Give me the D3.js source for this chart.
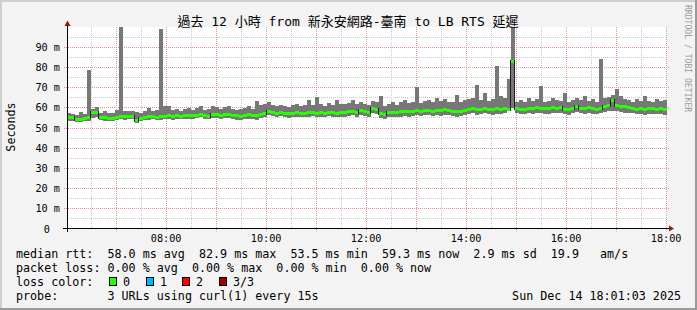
<!DOCTYPE html>
<html><head><meta charset="utf-8">
<script src="https://cdn.jsdelivr.net/npm/d3@7/dist/d3.min.js"></script>
<style>
html,body{margin:0;padding:0;background:#f3f3f3;}
svg{display:block;}
text{font-family:"DejaVu Sans Mono","Noto Sans CJK TC",monospace;}
</style></head>
<body>
<svg id="c" width="697" height="310"></svg>
<script>
// ---------- data ----------
const title = "過去 12 小時 from 新永安網路-臺南 to LB RTS 延遲";
const yAxisTitle = "Seconds";
const sideText = "RRDTOOL / TOBI OETIKER";
const startTime = new Date(2025, 11, 14, 6, 1, 3);
const endTime = new Date(2025, 11, 14, 18, 1, 3);
const binSeconds = 288;
const xTickLabels = ["08:00", "10:00", "12:00", "14:00", "16:00", "18:00"];
const yTickValues = [0, 10, 20, 30, 40, 50, 60, 70, 80, 90];
const yTickLabels = ["0", "10 m", "20 m", "30 m", "40 m", "50 m", "60 m", "70 m", "80 m", "90 m"];

const medianMs = [
 55.1,55.0,54.2,54.0,54.6,55.0,57.8,57.6,55.2,55.0,
 54.6,54.8,55.4,55.6,55.6,55.6,55.6,53.5,54.6,55.2,
 55.6,55.8,55.4,55.6,55.9,56.0,55.7,56.2,55.8,56.0,
 56.3,56.0,56.4,56.8,56.2,55.9,56.5,56.7,56.3,56.6,
 56.6,56.2,56.0,55.8,56.3,56.5,56.2,56.0,56.6,57.0,
 58.0,57.6,57.4,57.8,57.3,57.0,57.4,57.6,57.2,57.4,
 57.5,57.8,57.3,57.6,57.4,57.9,57.6,57.3,57.7,57.5,
 58.2,58.4,57.9,58.6,58.0,57.6,59.6,59.2,57.2,56.6,
 57.6,57.8,57.6,58.0,58.2,58.0,58.4,58.6,58.2,58.8,
 58.6,58.3,58.8,58.5,59.0,58.6,58.2,58.0,58.4,58.9,
 59.2,59.6,59.0,59.4,59.8,59.3,59.0,59.5,59.2,59.6,
 59.4,82.9,59.6,59.4,59.3,59.8,59.6,60.2,59.8,59.5,
 59.6,60.2,59.8,60.0,59.4,59.2,59.8,60.4,59.9,59.6,
 60.0,59.6,59.4,59.8,60.5,61.0,63.5,61.2,60.8,60.4,
 60.0,59.8,59.4,59.6,59.3,59.5,59.6,59.4,59.6,59.3
];
const minMs = [
 53.4,53.2,52.8,52.6,53.0,53.4,54.6,55.0,53.6,53.2,
 53.0,53.2,53.8,54.0,53.9,54.0,54.0,52.4,53.0,53.6,
 53.8,54.0,53.6,53.8,54.0,54.2,53.8,54.4,54.0,54.2,
 54.4,54.0,54.6,55.0,54.2,54.0,54.6,54.8,54.4,54.6,
 54.6,54.0,53.8,53.6,54.2,54.4,54.0,53.8,54.6,55.0,
 56.0,55.6,55.2,55.6,55.0,54.8,55.2,55.4,55.0,55.2,
 55.2,55.6,55.0,55.4,55.2,55.6,55.3,55.0,55.4,55.2,
 55.8,56.0,55.4,56.2,55.6,55.2,57.0,56.8,54.8,54.0,
 55.0,55.2,55.0,55.4,55.6,55.4,55.8,56.0,55.6,56.2,
 56.0,55.6,56.2,55.8,56.4,56.0,55.6,55.4,55.8,56.2,
 56.6,57.0,56.4,56.8,57.2,56.6,56.4,56.8,56.6,57.0,
 58.6,59.6,57.0,56.6,56.6,57.0,56.8,57.4,57.0,56.8,
 56.8,57.4,57.0,57.2,56.6,56.4,57.0,57.6,57.0,56.8,
 57.2,56.8,56.6,57.0,57.6,58.0,58.4,58.2,57.8,57.4,
 57.2,57.0,56.6,56.8,56.4,56.6,56.8,56.6,56.8,56.4
];
const maxMs = [
 57.0,56.6,56.4,57.8,56.8,78.6,59.4,60.2,57.4,58.0,
 57.4,57.0,58.6,105.0,58.2,58.4,58.0,57.6,57.2,58.0,
 59.6,58.4,58.8,99.0,60.7,60.6,58.6,59.0,58.4,59.2,
 59.6,58.6,59.8,60.4,58.8,59.4,60.6,60.0,59.2,60.2,
 60.4,59.0,58.8,59.4,59.8,60.6,59.2,63.2,61.0,61.4,
 62.6,61.0,60.6,61.2,60.4,60.0,61.0,61.6,60.4,61.2,
 63.6,61.0,65.0,61.4,60.8,62.0,61.2,63.6,61.8,61.4,
 62.0,63.4,61.6,62.8,61.4,61.0,63.0,62.6,65.5,60.4,
 61.6,62.4,61.2,62.8,63.4,62.0,62.6,70.0,62.2,63.0,
 63.4,62.6,64.6,63.0,64.0,62.8,62.4,66.0,62.6,63.8,
 64.0,64.6,71.0,63.6,67.0,63.2,64.0,80.5,65.4,64.4,
 74.0,105.0,62.8,63.4,62.6,64.4,63.0,64.0,70.6,62.6,
 63.0,64.4,63.6,63.0,67.0,62.8,63.6,64.8,63.4,65.5,
 63.2,64.0,62.8,84.0,64.4,65.0,66.0,69.3,65.4,64.0,
 63.6,62.8,64.2,63.0,65.5,63.2,62.6,64.0,63.0,63.6
];

const legendRtt = "median rtt:  58.0 ms avg  82.9 ms max  53.5 ms min  59.3 ms now  2.9 ms sd  19.9   am/s";
const legendLoss = "packet loss: 0.00 % avg  0.00 % max  0.00 % min  0.00 % now";
const lossColorLabel = "loss color:";
const lossLabels = ["0", "1", "2", "3/3"];
const lossColors = ["#26ff00", "#00b8ff", "#ff0000", "#a00000"];
const probeLabel = "probe:       3 URLs using curl(1) every 15s";
const dateLabel = "Sun Dec 14 18:01:03 2025";

// ---------- layout ----------
const W = 697, H = 310;
const PL = 67, PR = 667, PT = 27, PB = 228.5;
const svg = d3.select("#c");

const x = d3.scaleTime().domain([startTime, endTime]).range([PL, PR]);
const y = d3.scaleLinear().domain([0, 100]).range([PB, 26.5]);

// background + frame
svg.append("rect").attr("width", W).attr("height", H).attr("fill", "#f3f3f3");
svg.append("rect").attr("x",0).attr("y",0).attr("width",W).attr("height",2).attr("fill","#cfcfcf");
svg.append("rect").attr("x",0).attr("y",0).attr("width",2).attr("height",H).attr("fill","#cfcfcf");
svg.append("rect").attr("x",0).attr("y",H-2).attr("width",W).attr("height",2).attr("fill","#9a9a9a");
svg.append("rect").attr("x",W-2).attr("y",0).attr("width",2).attr("height",H).attr("fill","#9a9a9a");

// canvas
svg.append("rect").attr("x", PL).attr("y", PT).attr("width", PR - PL).attr("height", PB - PT).attr("fill", "#ffffff");

const defs = svg.append("defs");
defs.append("clipPath").attr("id", "plot").append("rect")
  .attr("x", PL).attr("y", PT).attr("width", PR - PL + 1).attr("height", PB - PT);

const px = v => Math.round(v) + 0.5;

// grid: minor
const minorColor = "#c8c8c8", majorColor = "#e49696";
const gMinor = svg.append("g");
d3.range(5, 100, 10).forEach(v => {
  gMinor.append("line").attr("x1", PL).attr("x2", PR).attr("y1", px(y(v))).attr("y2", px(y(v)))
    .attr("stroke", minorColor).attr("stroke-dasharray", "1,1");
});
const halfHours = x.ticks(d3.timeMinute.every(30)).filter(d => d.getMinutes() === 30);
halfHours.forEach(d => {
  gMinor.append("line").attr("x1", px(x(d))).attr("x2", px(x(d))).attr("y1", PT).attr("y2", PB)
    .attr("stroke", minorColor).attr("stroke-dasharray", "1,1");
});
// grid: major
const gMajor = svg.append("g");
yTickValues.filter(v => v > 0).forEach(v => {
  gMajor.append("line").attr("x1", PL - 3).attr("x2", PR + 3).attr("y1", px(y(v))).attr("y2", px(y(v)))
    .attr("stroke", majorColor).attr("stroke-dasharray", "1,1");
});
const hours = x.ticks(d3.timeHour.every(1));
hours.forEach(d => {
  gMajor.append("line").attr("x1", px(x(d))).attr("x2", px(x(d))).attr("y1", PT).attr("y2", PB + 3)
    .attr("stroke", majorColor).attr("stroke-dasharray", "1,1");
});

// data
const bins = medianMs.map((m, i) => ({
  t0: new Date(startTime.getTime() + i * binSeconds * 1000),
  t1: new Date(startTime.getTime() + (i + 1) * binSeconds * 1000),
  med: m, lo: minMs[i], hi: maxMs[i]
}));

const gData = svg.append("g").attr("clip-path", "url(#plot)");
gData.selectAll("rect.smoke").data(bins).enter().append("rect")
  .attr("class", "smoke")
  .attr("x", d => Math.round(x(d.t0)))
  .attr("width", d => Math.round(x(d.t1)) - Math.round(x(d.t0)))
  .attr("y", d => Math.round(y(d.hi)))
  .attr("height", d => Math.round(y(d.lo)) - Math.round(y(d.hi)))
  .attr("fill", "#777777");

// median: green segments + dark vertical joins
gData.selectAll("rect.med").data(bins).enter().append("rect")
  .attr("class", "med")
  .attr("x", d => Math.round(x(d.t0)))
  .attr("width", d => Math.round(x(d.t1)) - Math.round(x(d.t0)))
  .attr("y", d => Math.round(y(d.med)) - 1)
  .attr("height", 3)
  .attr("fill", lossColors[0]);
const joins = bins.slice(1).map((d, i) => ({
  xj: Math.round(x(d.t0)) - 0.5,
  ya: Math.round(y(bins[i].med)), yb: Math.round(y(d.med))
})).filter(j => Math.abs(j.ya - j.yb) >= 2);
gData.selectAll("line.join").data(joins).enter().append("line")
  .attr("class", "join")
  .attr("x1", d => d.xj).attr("x2", d => d.xj)
  .attr("y1", d => Math.min(d.ya, d.yb) - 1).attr("y2", d => Math.max(d.ya, d.yb) + 2)
  .attr("stroke", "#202020").attr("stroke-width", 1);

// axes
svg.append("line").attr("x1", PL - 4).attr("x2", PR + 4).attr("y1", 228.5).attr("y2", 228.5)
  .attr("stroke", "#000").attr("stroke-width", 1.2);
svg.append("line").attr("x1", PL + 0.5).attr("x2", PL + 0.5).attr("y1", 232).attr("y2", 24)
  .attr("stroke", "#000").attr("stroke-width", 1);
svg.append("path").attr("d", `M${PR+2},225.5 L${PR+7},228.5 L${PR+2},231.5 Z`).attr("fill", "#8b1a1a");
svg.append("path").attr("d", `M${PL-2.5},26 L${PL+0.5},20.5 L${PL+3.5},26 Z`).attr("fill", "#8b1a1a");

// y tick labels
yTickValues.forEach((v, i) => {
  svg.append("text").attr("x", v === 0 ? 50 : 60).attr("y", px(y(v)) + 3.3)
    .attr("text-anchor", "end").attr("font-size", "10.2px").attr("fill", "#000")
    .text(yTickLabels[i]);
});
// x tick labels
const parseHM = d3.timeParse("%Y-%m-%d %H:%M");
xTickLabels.forEach(l => {
  const t = parseHM("2025-12-14 " + l);
  svg.append("text").attr("x", x(t)).attr("y", 241.5)
    .attr("text-anchor", "middle").attr("font-size", "10.2px").attr("fill", "#000").text(l);
});

// title
svg.append("text").attr("x", 348).attr("y", 26).attr("text-anchor", "middle")
  .attr("font-size", "13px").attr("fill", "#000").text(title);
// y axis title
svg.append("text").attr("transform", "translate(14.5,127) rotate(-90)").attr("text-anchor", "middle")
  .attr("font-size", "11.7px").attr("fill", "#000").text(yAxisTitle);
// side text
svg.append("text").attr("transform", "translate(684.5,5) rotate(90)").attr("text-anchor", "start")
  .attr("font-size", "8.1px").attr("fill", "#9c9c9c").text(sideText);

// legend
const lf = "11.7px";
svg.append("text").attr("x", 16).attr("y", 258).attr("font-size", lf).style("white-space", "pre").text(legendRtt);
svg.append("text").attr("x", 16).attr("y", 272).attr("font-size", lf).style("white-space", "pre").text(legendLoss);
svg.append("text").attr("x", 16).attr("y", 286).attr("font-size", lf).style("white-space", "pre").text(lossColorLabel);
const boxX = [109, 146, 182, 219];
lossLabels.forEach((l, i) => {
  svg.append("rect").attr("x", boxX[i] + 0.5).attr("y", 277.5).attr("width", 7).attr("height", 8)
    .attr("fill", lossColors[i]).attr("stroke", "#000").attr("stroke-width", 1);
  svg.append("text").attr("x", boxX[i] + 14).attr("y", 286).attr("font-size", lf).text(l);
});
svg.append("text").attr("x", 16).attr("y", 299.5).attr("font-size", lf).style("white-space", "pre").text(probeLabel);
svg.append("text").attr("x", 681).attr("y", 299.5).attr("text-anchor", "end").attr("font-size", lf).text(dateLabel);
</script>
</body></html>
